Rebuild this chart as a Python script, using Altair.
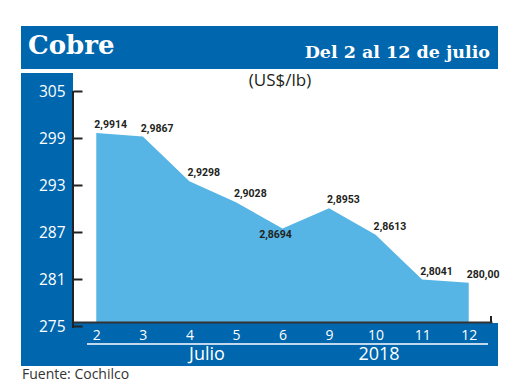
import altair as alt
import pandas as pd

dates = ["2", "3", "4", "5", "6", "9", "10", "11", "12"]
values = [299.14, 298.67, 292.98, 290.28, 286.94, 289.53, 286.13, 280.41, 280.00]
labels = ["2,9914", "2,9867", "2,9298", "2,9028", "2,8694", "2,8953", "2,8613", "2,8041", "280,00"]
y_ticks = [275, 281, 287, 293, 299, 305]
title_left = "Cobre"
title_right = "Del 2 al 12 de julio"
unit_text = "(US$/lb)"
month_text = "Julio"
year_text = "2018"
source_text = "Fuente: Cochilco"

W, H = 419, 235
DARK = "#0066ae"
LIGHT = "#56b5e5"
INK = "#231f20"
SANS = "Open Sans"
NARROW = "Roboto"

df = pd.DataFrame({"date": dates, "value": values, "label": labels})
one = pd.DataFrame({"k": [0]})

xsc = alt.Scale(type="point", padding=0.5)
ysc = alt.Scale(domain=[275, 305], zero=False, nice=False)

def rect(x, x2, y, y2, color):
    return alt.Chart(one).mark_rect(color=color).encode(
        x=alt.value(x), x2=alt.value(x2), y=alt.value(y), y2=alt.value(y2))

def rule(x, x2, y, y2, color, w):
    return alt.Chart(one).mark_rule(color=color, strokeWidth=w).encode(
        x=alt.value(x), x2=alt.value(x2), y=alt.value(y), y2=alt.value(y2))

def txt(s, x, y, size, color, font, align="center", weight="normal", baseline="middle"):
    return alt.Chart(pd.DataFrame({"t": [s]})).mark_text(
        fontSize=size, color=color, font=font, align=align, fontWeight=weight, baseline=baseline
    ).encode(x=alt.value(x), y=alt.value(y), text="t:N")

title_bar = rect(-52, 425, -61, -18, DARK)
side_bar = rect(-52, 0, -14, 279, DARK)
band = rect(-52, 425, 236, 279, DARK)

area = alt.Chart(df).mark_area(color=LIGHT, opacity=1).encode(
    x=alt.X("date:O", sort=dates, scale=xsc, title=None,
            axis=alt.Axis(labelAngle=0, ticks=False, domain=True, domainColor="#333",
                          domainWidth=2, labelColor="white", labelFont=SANS,
                          labelFontSize=14, labelPadding=6, grid=False, zindex=1)),
    y=alt.Y("value:Q", scale=ysc, axis=None),
    y2=alt.datum(275),
)

lab_main = alt.Chart(df).transform_filter(alt.datum.date != "6").mark_text(
    align="left", baseline="middle", dx=-2, dy=-8, fontSize=10.5, font=NARROW,
    fontWeight="bold", color=INK
).encode(x=alt.X("date:O", sort=dates, scale=xsc), y=alt.Y("value:Q", scale=ysc, axis=None),
         text="label:N")

lab_low = alt.Chart(df).transform_filter(alt.datum.date == "6").mark_text(
    align="center", baseline="middle", dx=-7, dy=7, fontSize=10.5, font=NARROW,
    fontWeight="bold", color=INK
).encode(x=alt.X("date:O", sort=dates, scale=xsc), y=alt.Y("value:Q", scale=ysc, axis=None),
         text="label:N")

yaxis = alt.Chart(pd.DataFrame({"tick": y_ticks})).mark_point(opacity=0).encode(
    y=alt.Y("tick:Q",
            scale=alt.Scale(domain=[275, 305], range=[H + 4, 4], zero=False, nice=False),
            axis=alt.Axis(orient="left", values=y_ticks, offset=-9, tickSize=9, tickWidth=2,
                          tickColor="#222", domain=False, labelColor="white", labelFont=SANS,
                          labelFontSize=15.5, labelPadding=8, title=None, grid=False, zindex=1))
)

vline = rule(0, 0, 4, 241, "#222", 2)
rtick = rule(W - 1, W - 1, 229, 236, "#222", 2)
uline = rule(14, 415, 257, 257, "white", 1.5)

t1 = txt(title_left, -45, -33, 26, "white", "DejaVu Serif", align="left", weight="bold",
         baseline="alphabetic")
t2 = txt(title_right, 417, -29, 17.5, "white", "DejaVu Serif", align="right", weight="bold",
         baseline="alphabetic")
t3 = txt(unit_text, 207, -6, 17, INK, SANS)
t4 = txt(month_text, 134, 268, 18, "white", SANS)
t5 = txt(year_text, 306, 268, 18, "white", SANS)
t6 = txt(source_text, -51, 288, 14, "#333", SANS, align="left")

chart = alt.layer(
    title_bar, side_bar, area, band, lab_main, lab_low, yaxis, vline, rtick, uline,
    t1, t2, t3, t4, t5, t6
).resolve_scale(y="independent").properties(
    width=W, height=H,
    autosize=alt.AutoSizeParams(type="none"),
    padding={"left": 65, "top": 79, "right": 20, "bottom": 60},
    background="white",
).configure_view(stroke=None)

chart.save("out.html", embed_options={"renderer": "svg", "actions": False})
